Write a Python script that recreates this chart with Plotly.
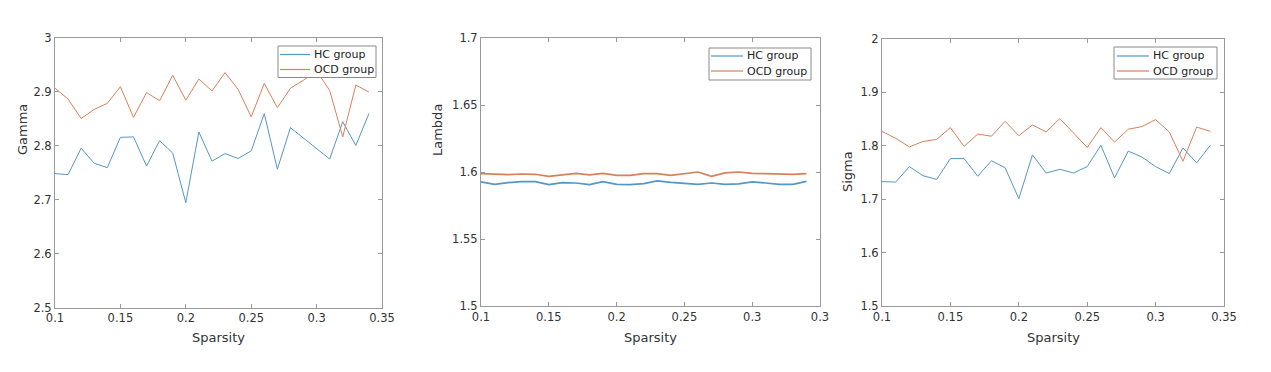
import plotly.graph_objects as go

sparsity = [0.10, 0.11, 0.12, 0.13, 0.14, 0.15, 0.16, 0.17, 0.18, 0.19, 0.20, 0.21, 0.22,
            0.23, 0.24, 0.25, 0.26, 0.27, 0.28, 0.29, 0.30, 0.31, 0.32, 0.33, 0.34]

gamma_hc = [2.748, 2.746, 2.795, 2.767, 2.759, 2.815, 2.816, 2.762, 2.809, 2.786, 2.694, 2.825, 2.771,
            2.785, 2.776, 2.790, 2.859, 2.756, 2.833, 2.814, 2.794, 2.775, 2.844, 2.800, 2.859]
gamma_ocd = [2.906, 2.886, 2.850, 2.867, 2.878, 2.909, 2.852, 2.898, 2.883, 2.930, 2.884, 2.923, 2.901,
             2.935, 2.904, 2.853, 2.915, 2.870, 2.906, 2.921, 2.938, 2.902, 2.816, 2.912, 2.899]

lambda_hc = [1.5926, 1.5908, 1.5921, 1.5928, 1.5928, 1.5906, 1.5921, 1.5918, 1.5906, 1.5928, 1.5908, 1.5906, 1.5913,
             1.5933, 1.5923, 1.5916, 1.5908, 1.5918, 1.5908, 1.5911, 1.5926, 1.5918, 1.5908, 1.5908, 1.5930]
lambda_ocd = [1.5988, 1.5985, 1.5980, 1.5985, 1.5983, 1.5968, 1.5980, 1.5990, 1.5978, 1.5990, 1.5975, 1.5975, 1.5988,
              1.5988, 1.5975, 1.5990, 1.6000, 1.5968, 1.5993, 1.6000, 1.5990, 1.5988, 1.5983, 1.5983, 1.5988]

sigma_hc = [1.733, 1.732, 1.761, 1.744, 1.737, 1.776, 1.776, 1.743, 1.772, 1.759, 1.701, 1.783, 1.749,
            1.756, 1.749, 1.761, 1.801, 1.740, 1.790, 1.779, 1.761, 1.748, 1.796, 1.768, 1.801]
sigma_ocd = [1.827, 1.814, 1.798, 1.808, 1.812, 1.834, 1.799, 1.822, 1.818, 1.846, 1.819, 1.839, 1.826,
             1.851, 1.824, 1.797, 1.834, 1.807, 1.831, 1.836, 1.849, 1.826, 1.771, 1.835, 1.827]

series_names = ["HC group", "OCD group"]
y_titles = ["Gamma", "Lambda", "Sigma"]
x_title = "Sparsity"

x_ticks = [0.1, 0.15, 0.2, 0.25, 0.3, 0.35]
x_ticktext_13 = ["0.1", "0.15", "0.2", "0.25", "0.3", "0.35"]
x_ticktext_2 = ["0.1", "0.15", "0.2", "0.25", "0.3", "0.3"]

gamma_ticks = [2.5, 2.6, 2.7, 2.8, 2.9, 3.0]
gamma_ticktext = ["2.5", "2.6", "2.7", "2.8", "2.9", "3"]
lambda_ticks = [1.5, 1.55, 1.6, 1.65, 1.7]
lambda_ticktext = ["1.5", "1.55", "1.6", "1.65", "1.7"]
sigma_ticks = [1.5, 1.6, 1.7, 1.8, 1.9, 2.0]
sigma_ticktext = ["1.5", "1.6", "1.7", "1.8", "1.9", "2"]

BLUE = "#5597c6"
ORANGE = "#d9805a"
COLORS = [BLUE, ORANGE]
W, H = 1271, 372
FONT = "DejaVu Sans"
AXC = "#9a9a9a"
TXT = "#333333"


def px_x(p):
    return p / W


def px_y(p):
    return 1 - p / H


fig = go.Figure()

panels = [
    (gamma_hc, gamma_ocd, "x", "y", 1.0),
    (lambda_hc, lambda_ocd, "x2", "y2", 1.7),
    (sigma_hc, sigma_ocd, "x3", "y3", 1.0),
]
for hc, ocd, xa, ya, lw in panels:
    for name, vals, col in zip(series_names, [hc, ocd], COLORS):
        fig.add_trace(go.Scatter(x=sparsity, y=vals, mode="lines", name=name,
                                 line=dict(color=col, width=lw), xaxis=xa, yaxis=ya,
                                 showlegend=False))

axis_common = dict(showline=True, linecolor=AXC, linewidth=1, mirror="ticks",
                   ticks="inside", ticklen=4, tickcolor=AXC, showgrid=False, zeroline=False,
                   automargin=False,
                   tickfont=dict(family=FONT, size=11.5, color=TXT), fixedrange=True)

# panel pixel boxes: (left, right, top, bottom)
boxes = [(55, 382, 37.5, 307.5), (481, 820, 38, 306), (882, 1224, 39, 306)]

xranges = [[0.1, 0.35], [0.1, 0.35], [0.1, 0.35]]
yranges = [[2.5, 3.0], [1.5, 1.7], [1.5, 2.0]]
xtt = [x_ticktext_13, x_ticktext_2, x_ticktext_13]
yt = [(gamma_ticks, gamma_ticktext), (lambda_ticks, lambda_ticktext), (sigma_ticks, sigma_ticktext)]

layout = dict(width=W, height=H, margin=dict(l=0, r=0, t=0, b=0, autoexpand=False),
              paper_bgcolor="white", plot_bgcolor="white", showlegend=False,
              font=dict(family=FONT, size=12, color=TXT))

for i, (l, r, t, b) in enumerate(boxes):
    sfx = "" if i == 0 else str(i + 1)
    layout["xaxis" + sfx] = dict(axis_common, domain=[px_x(l), px_x(r)], range=xranges[i],
                                 tickvals=x_ticks, ticktext=xtt[i], anchor="y" + sfx)
    layout["yaxis" + sfx] = dict(axis_common, domain=[px_y(b), px_y(t)], range=yranges[i],
                                 tickvals=yt[i][0], ticktext=yt[i][1], anchor="x" + sfx)

fig.update_layout(**layout)

# axis titles
ytitle_pos = [(22, 130), (437, 130), (847, 172)]
for i, (xp, yp) in enumerate(ytitle_pos):
    fig.add_annotation(x=px_x(xp), y=px_y(yp), xref="paper", yref="paper", text=y_titles[i],
                       textangle=-90, showarrow=False, xanchor="center", yanchor="middle",
                       font=dict(family=FONT, size=13, color=TXT))
for (l, r, t, b) in boxes:
    fig.add_annotation(x=px_x((l + r) / 2), y=px_y(337), xref="paper", yref="paper", text=x_title,
                       showarrow=False, xanchor="center", yanchor="middle",
                       font=dict(family=FONT, size=13, color=TXT))

# MATLAB-style legend boxes: (left, right, top, bottom, sample_x0, sample_x1, row_y list, text_x)
legends = [
    (278, 376, 46, 77.5, 280, 310, [54.5, 69.5], 312),
    (709, 811, 48, 80, 711, 743, [56, 71], 745),
    (1114, 1217, 47, 79, 1117, 1149, [56, 71], 1151),
]
for (l, r, t, b, sx0, sx1, rows, tx) in legends:
    fig.add_shape(type="rect", xref="paper", yref="paper", x0=px_x(l), x1=px_x(r),
                  y0=px_y(b), y1=px_y(t), fillcolor="white", line=dict(color="#8a8a8a", width=1),
                  layer="above")
    for name, col, ry in zip(series_names, COLORS, rows):
        fig.add_shape(type="line", xref="paper", yref="paper", x0=px_x(sx0), x1=px_x(sx1),
                      y0=px_y(ry), y1=px_y(ry), line=dict(color=col, width=1.2), layer="above")
        fig.add_annotation(x=px_x(tx), y=px_y(ry), xref="paper", yref="paper", text=name,
                           showarrow=False, xanchor="left", yanchor="middle",
                           font=dict(family=FONT, size=11, color="#222222"))

fig.write_html("out.html", config={"displayModeBar": False, "staticPlot": True},
               post_script="document.body.style.margin='0';document.body.style.overflow='hidden';")
